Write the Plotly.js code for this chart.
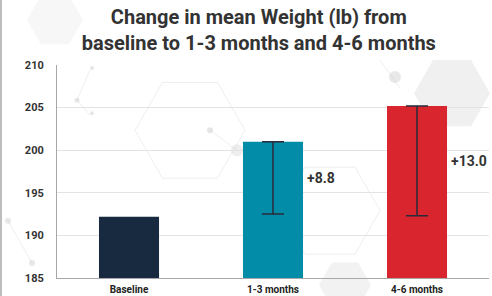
<!DOCTYPE html>
<html>
<head>
<meta charset="utf-8">
<script src="https://cdn.plot.ly/plotly-3.0.1.min.js"></script>
<style>html,body{margin:0;padding:0;background:#fff;}#chart{width:492px;height:296px;}</style>
</head>
<body>
<div id="chart"></div>
<script>
var categories = ["Baseline", "1-3 months", "4-6 months"];
var meanWeight = [192.2, 201.0, 205.2];
var errMinus = [NaN, 8.5, 12.9];
var errPlus = [NaN, 0, 0];
var changeLabels = ["", "+8.8", "+13.0"];
var barColors = ["#172a3f", "#038ca8", "#d9252e"];

// plot area in px: x 57..489, y 65..277
var PW = 432, PH = 212, PL = 57, PT = 65;
function px(x) { return (x - PL) / PW; }
function py(y) { return (PT + PH - y) / PH; }
function hexPath(cx, cy, r) {
  var p = "";
  for (var i = 0; i < 6; i++) {
    var a = Math.PI / 3 * i;
    p += (i === 0 ? "M" : "L") + px(cx + r * Math.cos(a)) + "," + py(cy + r * Math.sin(a));
  }
  return p + "Z";
}
function dot(cx, cy, r, c) {
  return {type: "circle", xref: "paper", yref: "paper", x0: px(cx - r), x1: px(cx + r), y0: py(cy + r), y1: py(cy - r), fillcolor: c, line: {width: 0}, layer: "below"};
}
function seg(x0, y0, x1, y1, c) {
  return {type: "line", xref: "paper", yref: "paper", x0: px(x0), y0: py(y0), x1: px(x1), y1: py(y1), line: {width: 1, color: c}, layer: "below"};
}
var faint = "rgba(205,205,205,0.35)";
var shapes = [
  {type: "path", xref: "paper", yref: "paper", path: hexPath(452, 93, 38), fillcolor: "rgba(205,205,205,0.3)", line: {width: 0}, layer: "below"},
  {type: "path", xref: "paper", yref: "paper", path: hexPath(345, 284, 26), fillcolor: "rgba(205,205,205,0.25)", line: {width: 0}, layer: "below"},
  {type: "path", xref: "paper", yref: "paper", path: hexPath(55, 20, 28), fillcolor: "rgba(215,215,215,0.2)", line: {width: 0}, layer: "below"},
  {type: "path", xref: "paper", yref: "paper", path: hexPath(190, 130, 55), fillcolor: "rgba(0,0,0,0)", line: {width: 1, color: faint}, layer: "below"},
  {type: "path", xref: "paper", yref: "paper", path: hexPath(330, 210, 50), fillcolor: "rgba(0,0,0,0)", line: {width: 1, color: faint}, layer: "below"},
  seg(90, 70, 77, 100, faint), seg(77, 100, 90, 115, faint),
  seg(8, 220, 32, 262, faint), seg(210, 130, 237, 150, faint),
  seg(380, 60, 400, 88, faint),
  dot(77, 100, 2.5, "rgba(205,205,205,0.5)"),
  dot(92, 68, 2, "rgba(205,205,205,0.5)"),
  dot(92, 113, 2, "rgba(205,205,205,0.5)"),
  dot(8, 220, 3, "rgba(205,205,205,0.45)"),
  dot(32, 262, 3, "rgba(205,205,205,0.45)"),
  dot(210, 130, 3, "rgba(205,205,205,0.5)"),
  dot(237, 150, 6, "rgba(205,205,205,0.35)"),
  dot(395, 77, 6, "rgba(205,205,205,0.45)"),
  dot(438, 162, 6, "rgba(205,205,205,0.35)"),
  {type: "rect", xref: "paper", yref: "paper", x0: px(0), x1: px(2), y0: py(296), y1: py(0), fillcolor: "#bdbdbd", line: {width: 0}, layer: "below"}
];

var trace = {
  type: "bar",
  x: categories,
  y: meanWeight,
  marker: {color: barColors},
  error_y: {
    type: "data",
    symmetric: false,
    array: errPlus,
    arrayminus: errMinus,
    color: "#2a2a3a",
    thickness: 1.5,
    width: 11
  },
  hoverinfo: "none"
};

var annotations = [];
for (var i = 0; i < categories.length; i++) {
  if (changeLabels[i]) {
    annotations.push({
      x: categories[i],
      y: (meanWeight[i] + meanWeight[i] - errMinus[i]) / 2,
      xref: "x", yref: "y",
      text: "<b>" + changeLabels[i] + "</b>",
      showarrow: false,
      xanchor: "left",
      xshift: 32,
      font: {family: "Roboto, Arial, sans-serif", size: 14, color: "#333"}
    });
  }
}

var layout = {
  width: 492, height: 296,
  margin: {l: 57, r: 3, t: 65, b: 18},
  paper_bgcolor: "#ffffff",
  plot_bgcolor: "rgba(0,0,0,0)",
  bargap: 0.583,
  showlegend: false,
  title: {
    text: "<b>Change in mean Weight (lb) from<br>baseline to 1-3 months and 4-6 months</b>",
    x: 0.526, xanchor: "center", xref: "container",
    y: 1, yref: "paper", yanchor: "bottom",
    pad: {b: 41},
    font: {family: "Roboto, Arial, sans-serif", size: 20, color: "#333"}
  },
  xaxis: {
    type: "category",
    showline: true, linecolor: "#a8a8a8", linewidth: 1,
    ticks: "",
    tickfont: {family: "Roboto, Arial, sans-serif", size: 10, color: "#222", weight: "bold"},
    ticklabelstandoff: 2
  },
  yaxis: {
    range: [185, 210],
    dtick: 5,
    showline: true, linecolor: "#a8a8a8", linewidth: 1,
    gridcolor: "#e3e3e3", gridwidth: 1,
    zeroline: false,
    ticks: "",
    ticklabelstandoff: 10,
    tickfont: {family: "Roboto, Arial, sans-serif", size: 11, color: "#333", weight: "bold"}
  },
  shapes: shapes,
  annotations: annotations
};

Plotly.newPlot("chart", [trace], layout, {displayModeBar: false, staticPlot: true});
</script>
</body>
</html>
